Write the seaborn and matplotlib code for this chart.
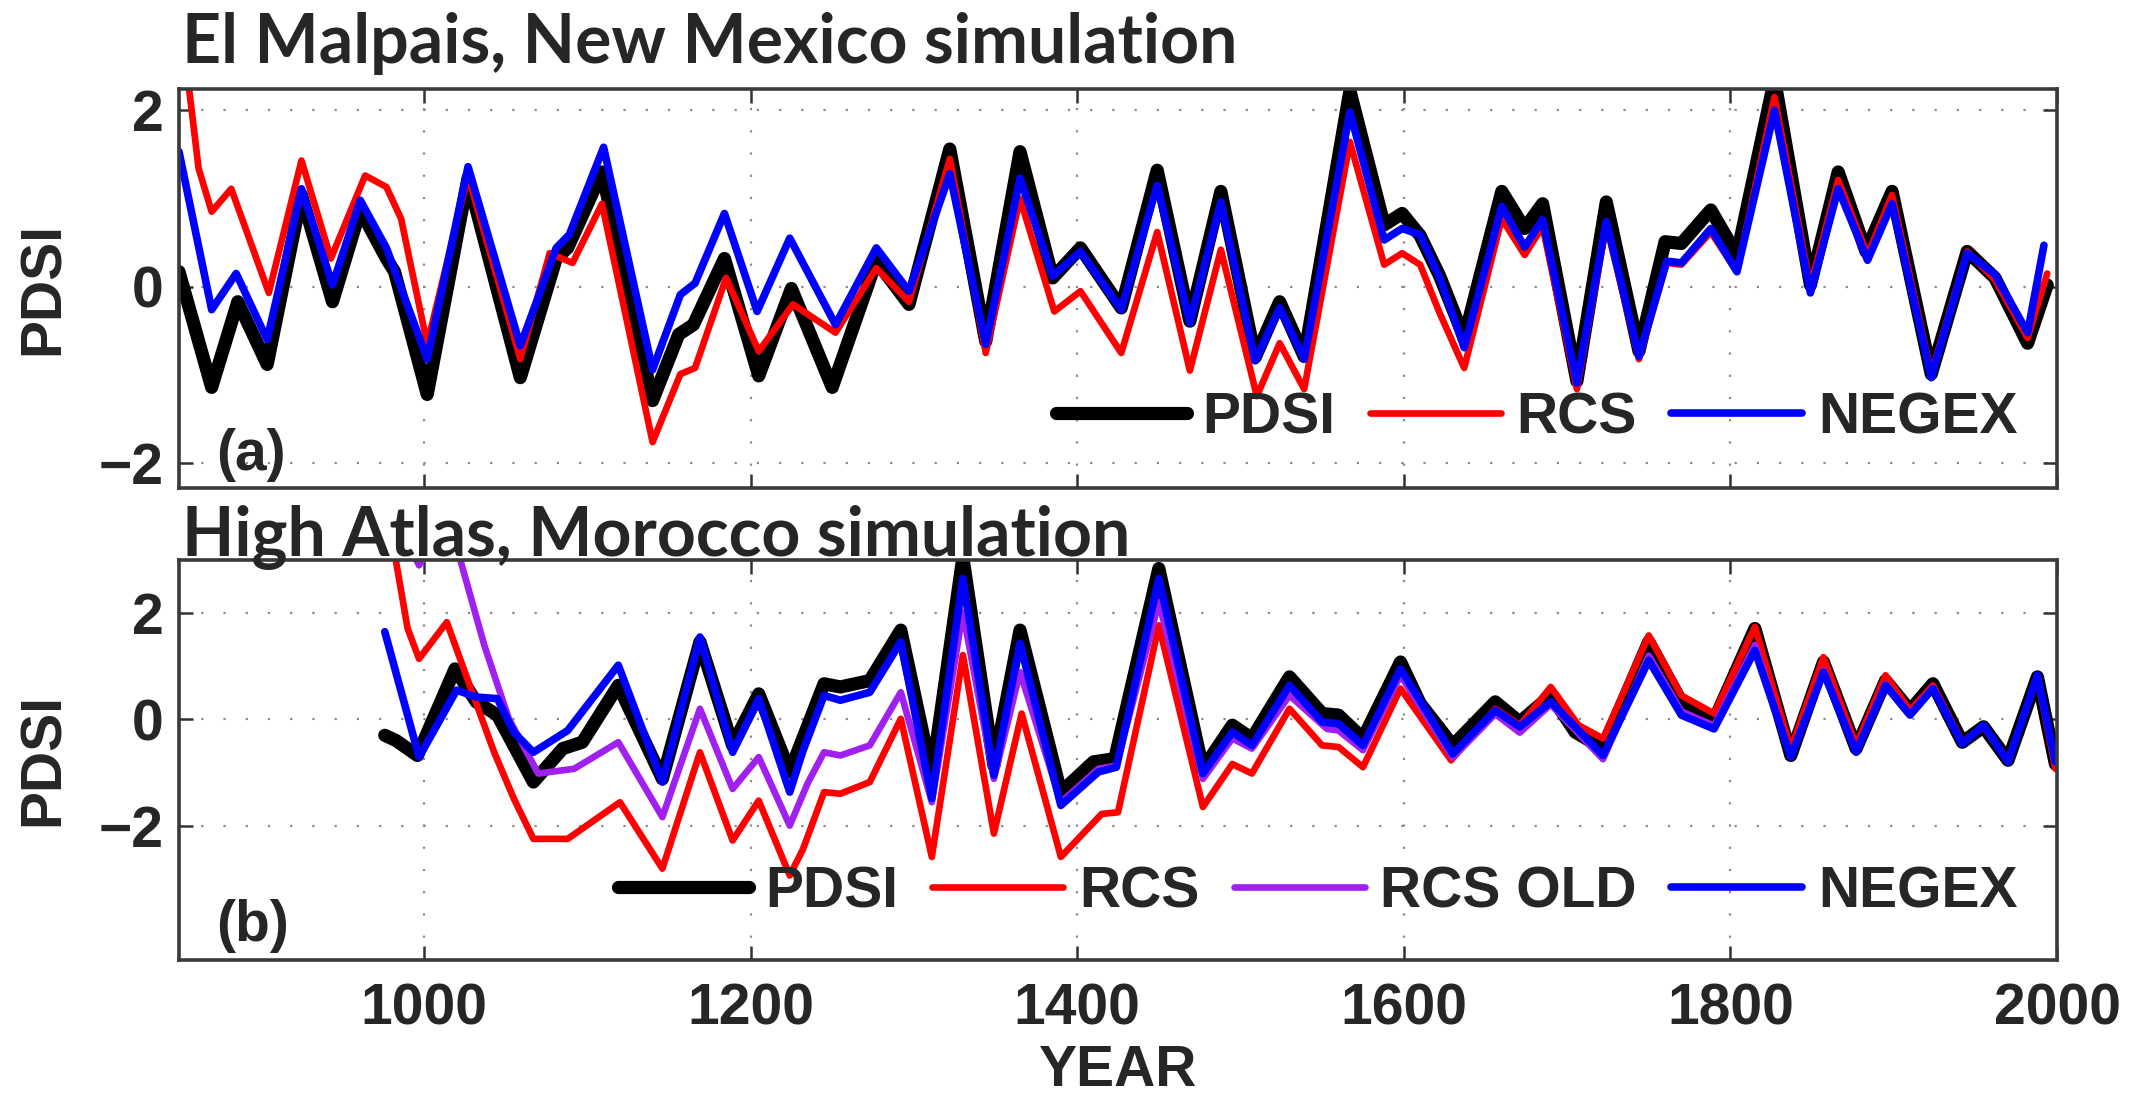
import numpy as np
import pandas as pd
import matplotlib
matplotlib.use("Agg")
import matplotlib.pyplot as plt
import seaborn as sns

# ---------------- data: panel (a) El Malpais ----------------
pdsi_a_year = [850, 870, 886, 904, 925, 944, 961, 977, 982, 1002, 1027, 1059, 1081, 1088, 1109,
               1140, 1156, 1165, 1184, 1205, 1225, 1250, 1277, 1297, 1322, 1344, 1365, 1385,
               1402, 1427, 1449, 1469, 1488, 1509, 1524, 1539, 1567, 1588, 1599, 1610, 1622,
               1637, 1660, 1674, 1685, 1706, 1724, 1744, 1760, 1770, 1788, 1804, 1827, 1849,
               1866, 1883, 1899, 1923, 1945, 1962, 1982, 1994]
pdsi_a_val = [0.17, -1.14, -0.17, -0.88, 1.04, -0.17, 0.87, 0.32, 0.17, -1.22, 1.23, -1.03, 0.32,
              0.44, 1.30, -1.29, -0.54, -0.43, 0.32, -1.01, -0.02, -1.14, 0.29, -0.20, 1.56,
              -0.62, 1.53, 0.10, 0.44, -0.24, 1.32, -0.39, 1.08, -0.80, -0.17, -0.79, 2.22,
              0.70, 0.83, 0.58, 0.12, -0.58, 1.08, 0.66, 0.94, -1.07, 0.96, -0.73, 0.51, 0.49,
              0.87, 0.36, 2.35, 0.02, 1.30, 0.40, 1.08, -0.99, 0.40, 0.10, -0.64, 0.02]

rcs_a_year = [850, 862, 870, 882, 905, 925, 943, 964, 977, 986, 1002, 1027, 1059, 1077, 1091,
              1109, 1140, 1157, 1166, 1185, 1205, 1226, 1252, 1277, 1297, 1322, 1344, 1365,
              1386, 1402, 1427, 1449, 1469, 1488, 1510, 1524, 1539, 1567, 1588, 1599, 1610,
              1622, 1637, 1660, 1674, 1685, 1706, 1724, 1744, 1761, 1770, 1788, 1804, 1827,
              1849, 1866, 1884, 1899, 1923, 1945, 1962, 1982, 1994]
rcs_a_val = [3.2, 1.34, 0.85, 1.11, -0.07, 1.43, 0.32, 1.26, 1.13, 0.77, -0.65, 1.26, -0.82, 0.38,
             0.27, 0.94, -1.76, -0.99, -0.92, 0.10, -0.73, -0.20, -0.52, 0.21, -0.17, 1.45,
             -0.75, 1.00, -0.28, -0.05, -0.75, 0.62, -0.95, 0.42, -1.24, -0.64, -1.16, 1.64,
             0.25, 0.38, 0.25, -0.30, -0.92, 0.77, 0.36, 0.68, -1.16, 0.70, -0.82, 0.27, 0.25,
             0.62, 0.17, 2.15, 0.00, 1.21, 0.36, 1.04, -0.99, 0.40, 0.08, -0.58, 0.15]

negex_a_year = [850, 870, 885, 904, 925, 944, 961, 977, 1002, 1027, 1059, 1081, 1089, 1110,
                1140, 1157, 1166, 1184, 1204, 1224, 1252, 1277, 1297, 1322, 1344, 1365, 1385,
                1402, 1427, 1449, 1469, 1488, 1509, 1524, 1539, 1567, 1588, 1599, 1610, 1622,
                1637, 1660, 1674, 1685, 1706, 1724, 1744, 1761, 1770, 1788, 1804, 1827, 1849,
                1866, 1884, 1899, 1923, 1945, 1962, 1982, 1992]
negex_a_val = [1.53, -0.26, 0.15, -0.60, 1.11, 0.02, 0.98, 0.44, -0.82, 1.36, -0.67, 0.44, 0.59,
               1.58, -0.94, -0.09, 0.04, 0.83, -0.28, 0.55, -0.43, 0.44, -0.05, 1.28, -0.65,
               1.23, 0.12, 0.40, -0.26, 1.15, -0.41, 0.96, -0.84, -0.24, -0.82, 1.98, 0.53,
               0.66, 0.59, 0.10, -0.69, 0.91, 0.45, 0.76, -1.09, 0.74, -0.79, 0.29, 0.27, 0.66,
               0.17, 2.00, -0.07, 1.11, 0.30, 0.94, -1.03, 0.38, 0.14, -0.52, 0.47]

# ---------------- data: panel (b) High Atlas ----------------
pdsi_b_year = [976, 983, 996, 1019, 1032, 1045, 1067, 1085, 1097, 1119, 1146, 1169, 1189, 1205,
               1224, 1245, 1255, 1273, 1292, 1311, 1330, 1349, 1365, 1390, 1410, 1423, 1450,
               1477, 1495, 1507, 1530, 1550, 1560, 1575, 1598, 1610, 1630, 1656, 1671, 1690,
               1705, 1722, 1750, 1770, 1790, 1815, 1837, 1857, 1877, 1895, 1910, 1924, 1942,
               1955, 1970, 1988, 1999]
pdsi_b_val = [-0.30, -0.40, -0.68, 0.95, 0.33, 0.08, -1.18, -0.55, -0.43, 0.64, -1.12, 1.46,
              -0.49, 0.48, -0.99, 0.67, 0.61, 0.73, 1.68, -1.05, 3.05, -0.87, 1.68, -1.37,
              -0.80, -0.74, 2.84, -0.93, -0.11, -0.36, 0.80, 0.11, 0.08, -0.36, 1.08, 0.30,
              -0.49, 0.33, -0.05, 0.45, -0.24, -0.55, 1.46, 0.33, -0.02, 1.71, -0.68, 1.08,
              -0.55, 0.73, 0.17, 0.67, -0.43, -0.14, -0.77, 0.80, -0.84]

rcs_b_year = [976, 990, 997, 1014, 1028, 1043, 1055, 1067, 1088, 1120, 1146, 1169, 1189, 1205,
              1224, 1232, 1245, 1255, 1273, 1292, 1311, 1330, 1349, 1366, 1390, 1415, 1425,
              1450, 1477, 1495, 1507, 1530, 1550, 1560, 1575, 1598, 1629, 1656, 1671, 1690,
              1707, 1722, 1750, 1770, 1790, 1815, 1837, 1857, 1877, 1895, 1910, 1924, 1942,
              1955, 1970, 1988, 1999]
rcs_b_val = [4.2, 1.71, 1.14, 1.83, 0.64, -0.62, -1.49, -2.25, -2.25, -1.56, -2.81, -0.62, -2.28,
             -1.53, -2.94, -2.45, -1.37, -1.40, -1.18, 0.01, -2.59, 1.21, -2.15, 0.11, -2.59,
             -1.78, -1.75, 1.77, -1.65, -0.84, -1.02, 0.20, -0.49, -0.52, -0.90, 0.58, -0.77,
             0.20, -0.11, 0.61, -0.11, -0.36, 1.58, 0.45, 0.11, 1.74, -0.55, 1.17, -0.49, 0.83,
             0.17, 0.64, -0.43, -0.14, -0.77, 0.80, -0.93]

rcsold_b_year = [976, 997, 1010, 1022, 1037, 1052, 1070, 1092, 1119, 1146, 1169, 1189, 1205,
                 1224, 1235, 1245, 1255, 1273, 1292, 1311, 1330, 1349, 1365, 1390, 1413, 1424,
                 1450, 1477, 1495, 1507, 1530, 1553, 1560, 1575, 1598, 1630, 1656, 1671, 1690,
                 1722, 1750, 1770, 1790, 1815, 1837, 1857, 1877, 1895, 1910, 1924, 1942, 1955,
                 1970, 1988, 1999]
rcsold_b_val = [4.2, 2.9, 3.6, 3.03, 1.39, 0.01, -1.02, -0.93, -0.43, -1.84, 0.20, -1.31, -0.71,
                -2.00, -1.20, -0.62, -0.68, -0.49, 0.51, -1.56, 2.02, -1.12, 0.89, -1.56, -0.93,
                -0.87, 2.21, -1.12, -0.36, -0.55, 0.45, -0.18, -0.21, -0.58, 0.83, -0.72, 0.10,
                -0.25, 0.28, -0.75, 1.20, 0.15, -0.12, 1.40, -0.71, 0.92, -0.60, 0.66, 0.10,
                0.60, -0.45, -0.12, -0.79, 0.82, -0.82]

negex_b_year = [976, 997, 1020, 1032, 1045, 1055, 1067, 1088, 1119, 1146, 1169, 1189, 1205,
                1224, 1232, 1245, 1255, 1273, 1292, 1311, 1330, 1349, 1365, 1390, 1413, 1424,
                1450, 1477, 1495, 1507, 1530, 1550, 1560, 1575, 1598, 1630, 1656, 1671, 1690,
                1722, 1750, 1770, 1790, 1815, 1837, 1857, 1877, 1895, 1910, 1924, 1942, 1955,
                1970, 1988, 1999]
negex_b_val = [1.65, -0.71, 0.55, 0.42, 0.39, -0.24, -0.62, -0.21, 1.02, -1.18, 1.55, -0.62,
               0.39, -1.37, -0.60, 0.45, 0.36, 0.51, 1.46, -1.49, 2.65, -1.05, 1.43, -1.62,
               -0.99, -0.90, 2.65, -1.02, -0.24, -0.49, 0.64, -0.05, -0.08, -0.49, 0.95, -0.65,
               0.17, -0.14, 0.33, -0.68, 1.11, 0.08, -0.18, 1.30, -0.71, 0.89, -0.62, 0.64,
               0.08, 0.58, -0.46, -0.11, -0.80, 0.83, -0.80]

x_ticks = [1000, 1200, 1400, 1600, 1800, 2000]
y_ticks = [-2, 0, 2]
title_a = "El Malpais, New Mexico simulation"
title_b = "High Atlas, Morocco simulation"

# ---------------- style ----------------
sns.set_theme(style="white")
plt.rcParams["font.family"] = ["Liberation Sans", "DejaVu Sans"]
plt.rcParams["font.weight"] = "bold"
plt.rcParams["axes.unicode_minus"] = True

W, H = 2139, 1095
fig = plt.figure(figsize=(W / 100, H / 100), dpi=100)
fig.patch.set_facecolor("white")
ax1 = fig.add_axes([179 / W, 1 - 488 / H, (2057 - 179) / W, (488 - 89) / H])
ax2 = fig.add_axes([179 / W, 1 - 960 / H, (2057 - 179) / W, (960 - 560) / H])

BLACK, RED, BLUE, PURPLE = "#000000", "#ff0000", "#0000ff", "#a020f0"


def draw(ax, years, vals, color, lw, label):
    df = pd.DataFrame({"YEAR": years, "PDSI": vals})
    sns.lineplot(data=df, x="YEAR", y="PDSI", ax=ax, color=color, linewidth=lw,
                 label=label, estimator=None, sort=False,
                 solid_joinstyle="round", solid_capstyle="round")


draw(ax1, pdsi_a_year, pdsi_a_val, BLACK, 9.5, "PDSI")
draw(ax1, rcs_a_year, rcs_a_val, RED, 4.8, "RCS")
draw(ax1, negex_a_year, negex_a_val, BLUE, 5.5, "NEGEX")

draw(ax2, pdsi_b_year, pdsi_b_val, BLACK, 9.5, "PDSI")
draw(ax2, rcs_b_year, rcs_b_val, RED, 4.8, "RCS")
draw(ax2, rcsold_b_year, rcsold_b_val, PURPLE, 4.8, "RCS OLD")
draw(ax2, negex_b_year, negex_b_val, BLUE, 5.5, "NEGEX")

ax1.set_ylim(-2.28, 2.24)
ax2.set_ylim(-4.53, 3.0)

for ax in (ax1, ax2):
    ax.set_xlim(850, 2000)
    ax.set_xticks(x_ticks)
    ax.set_yticks(y_ticks)
    ax.set_axisbelow(True)
    ax.grid(True, linestyle=(0, (1, 9)), linewidth=1.6, color="#8a8a8a")
    ax.tick_params(direction="in", length=10, width=1.8, color="#333333",
                   top=True, right=True, bottom=True, left=True,
                   labelsize=41, pad=11)
    ax.tick_params(axis="x", pad=16)
    for lab in ax.get_xticklabels() + ax.get_yticklabels():
        lab.set_fontweight("bold")
    for sp in ax.spines.values():
        sp.set_color("#3a3a3a")
        sp.set_linewidth(2.6)
        sp.set_visible(True)
    ax.set_ylabel("PDSI", fontsize=41, fontweight="bold", va="center")
    ax.yaxis.set_label_coords(-0.072, 0.5)

ax1.tick_params(axis="x", labelbottom=False)
ax1.set_xlabel("")
ax2.set_xlabel("YEAR", fontsize=41, fontweight="bold")
ax2.xaxis.set_label_coords(0.5, -0.21)

leg_kw = dict(loc="center right", frameon=False, borderaxespad=0, borderpad=0,
              handlelength=2.3, handletextpad=0.28, columnspacing=0.6,
              prop={"weight": "bold", "size": 41})
ax1.legend(ncol=3, bbox_to_anchor=(0.979, 0.175), **leg_kw)
ax2.legend(ncol=4, bbox_to_anchor=(0.979, 0.17), **leg_kw)

ax1.text(0.0197, 0.045, "(a)", transform=ax1.transAxes, fontsize=41,
         fontweight="bold", va="baseline", ha="left")
ax2.text(0.0197, 0.0475, "(b)", transform=ax2.transAxes, fontsize=41,
         fontweight="bold", va="baseline", ha="left")

fig.text(182 / W, 1 - 63 / H, title_a, fontsize=49, family=["Lato", "DejaVu Sans"],
         fontweight="bold", va="baseline", ha="left")
fig.text(182 / W, 1 - 556 / H, title_b, fontsize=49, family=["Lato", "DejaVu Sans"],
         fontweight="bold", va="baseline", ha="left")

fig.savefig("out.png", dpi=100)
